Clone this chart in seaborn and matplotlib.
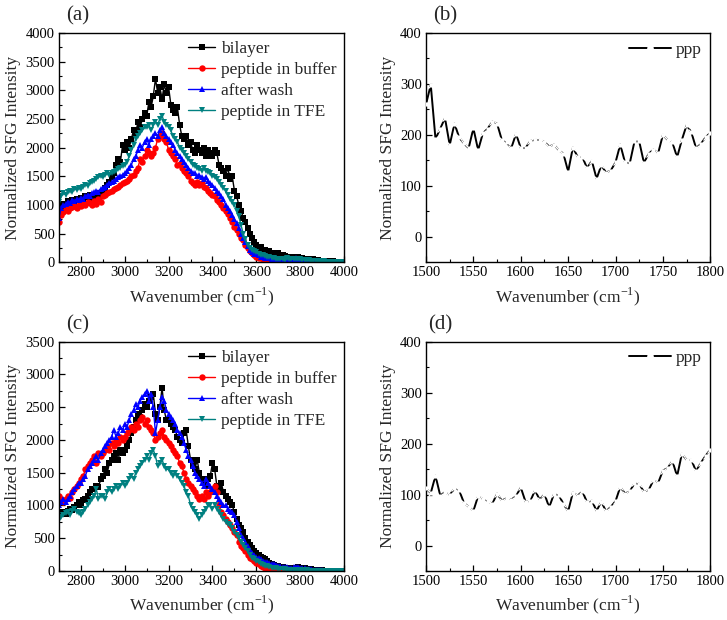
import numpy as np
import pandas as pd
import matplotlib
matplotlib.use("Agg")
import matplotlib.pyplot as plt
from matplotlib.ticker import MultipleLocator
from matplotlib.legend_handler import HandlerTuple
import seaborn as sns

# wavenumber grids
wn_ch = list(range(2700, 4001, 10))
wn_amide = list(range(1500, 1801, 5))

series_names = ["bilayer", "peptide in buffer", "after wash", "peptide in TFE"]
series_colors = ["#000000", "#ff0000", "#0000ff", "#008080"]
series_markers = ["s", "o", "^", "v"]

# panel (a)
a_bilayer = [900, 960, 1010, 1000, 1060, 1040, 1080, 1050, 1100, 1090,
             1120, 1100, 1150, 1130, 1180, 1100, 1140, 1120, 1200, 1160,
             1250, 1300, 1350, 1400, 1480, 1550, 1700, 1800, 1750, 2050,
             1950, 2100, 2000, 2150, 2300, 2250, 2450, 2350, 2500, 2600,
             2550, 2800, 2700, 2900, 3200, 2950, 3050, 2850, 3100, 2950,
             3050, 2750, 2650, 2600, 2700, 2400, 2200, 2150, 2200, 2050,
             2100, 1950, 1900, 2050, 1950, 1900, 2000, 1850, 1950, 1900,
             1850, 1950, 1900, 1700, 1650, 1600, 1500, 1650, 1450, 1500,
             1250, 1150, 1000, 900, 780, 700, 600, 500, 420, 350,
             300, 250, 260, 200, 220, 180, 190, 150, 170, 140,
             160, 130, 120, 110, 90, 100, 80, 90, 100, 85,
             70, 75, 60, 55, 50, 45, 50, 40, 35, 30,
             30, 25, 25, 20, 15, 15, 10, 8, 5, 3,
             0]
a_buffer = [700, 820, 880, 920, 900, 950, 960, 980, 940, 1000,
            980, 1020, 1000, 1050, 1030, 1000, 1060, 1020, 1100, 1050,
            1150, 1180, 1200, 1220, 1250, 1280, 1300, 1320, 1350, 1380,
            1400, 1420, 1460, 1500, 1520, 1600, 1650, 1800, 1750, 1850,
            1950, 1900, 1850, 1900, 2000, 2150, 2200, 2250, 2150, 2100,
            1950, 1900, 1850, 1800, 1700, 1720, 1650, 1600, 1550, 1500,
            1420, 1380, 1350, 1400, 1350, 1380, 1320, 1300, 1250, 1200,
            1180, 1150, 1080, 1050, 1000, 950, 900, 850, 780, 700,
            620, 560, 500, 430, 380, 300, 250, 200, 160, 120,
            100, 80, 70, 60, 55, 50, 45, 40, 35, 30,
            30, 28, 25, 25, 22, 20, 20, 18, 18, 20,
            20, 18, 15, 15, 12, 12, 10, 10, 8, 8,
            6, 6, 5, 5, 4, 4, 3, 2, 1, 1,
            0]
a_wash = [780, 950, 1000, 1020, 1050, 1040, 1080, 1060, 1100, 1090,
          1120, 1100, 1150, 1180, 1160, 1200, 1220, 1250, 1230, 1280,
          1300, 1320, 1350, 1380, 1400, 1420, 1450, 1480, 1500, 1530,
          1550, 1600, 1650, 1700, 1800, 1850, 1950, 2050, 2000, 2100,
          2150, 2050, 2150, 2200, 2250, 2200, 2300, 2350, 2250, 2200,
          2150, 2100, 2050, 1950, 1900, 1850, 1800, 1750, 1700, 1650,
          1600, 1550, 1550, 1500, 1520, 1480, 1450, 1480, 1420, 1380,
          1350, 1300, 1250, 1200, 1150, 1100, 1000, 950, 900, 820,
          750, 680, 600, 500, 420, 350, 280, 220, 180, 150,
          150, 120, 100, 90, 80, 80, 70, 60, 60, 55,
          50, 50, 45, 40, 40, 45, 50, 60, 70, 60,
          50, 45, 40, 35, 35, 30, 30, 25, 25, 20,
          20, 18, 15, 12, 10, 8, 6, 4, 2, 1,
          0]
a_tfe = [1050, 1150, 1200, 1180, 1220, 1250, 1230, 1280, 1260, 1300,
         1280, 1320, 1350, 1330, 1380, 1400, 1420, 1450, 1480, 1500,
         1480, 1520, 1550, 1530, 1560, 1580, 1600, 1620, 1650, 1680,
         1700, 1750, 1850, 1950, 2050, 2150, 2200, 2250, 2300, 2350,
         2350, 2400, 2300, 2400, 2450, 2400, 2500, 2550, 2450, 2400,
         2350, 2300, 2200, 2150, 2100, 2000, 1950, 1900, 1850, 1800,
         1750, 1700, 1680, 1650, 1620, 1600, 1650, 1600, 1580, 1550,
         1500, 1480, 1450, 1400, 1350, 1300, 1250, 1180, 1100, 1050,
         1000, 900, 800, 650, 500, 400, 300, 250, 220, 200,
         180, 150, 130, 120, 110, 100, 90, 80, 70, 65,
         60, 55, 50, 45, 80, 60, 50, 55, 60, 55,
         50, 45, 40, 40, 35, 30, 30, 25, 20, 20,
         18, 15, 12, 10, 8, 6, 5, 3, 2, 1,
         0]

# panel (c)
c_bilayer = [850, 880, 900, 870, 920, 950, 930, 980, 1000, 1050,
             1000, 1080, 1100, 1150, 1200, 1250, 1250, 1300, 1280, 1400,
             1450, 1550, 1500, 1650, 1700, 1750, 1800, 1700, 1850, 1800,
             1850, 1900, 2000, 2100, 2200, 2300, 2400, 2350, 2450, 2550,
             2500, 2600, 2650, 2700, 2400, 2300, 2500, 2800, 2450, 2300,
             2300, 2250, 2200, 2150, 2050, 2000, 1950, 2100, 2150, 1900,
             1700, 1600, 1550, 1700, 1500, 1400, 1350, 1300, 1400, 1450,
             1650, 1550, 1300, 1250, 1350, 1200, 1150, 1100, 1050, 1000,
             900, 800, 700, 650, 600, 500, 450, 400, 350, 300,
             270, 250, 220, 200, 180, 150, 120, 100, 90, 80,
             70, 60, 55, 50, 45, 40, 40, 45, 50, 55,
             50, 45, 40, 35, 30, 25, 20, 15, 12, 10,
             8, 6, 5, 4, 3, 2, 1, 1, 0, 0,
             0]
c_buffer = [1150, 1100, 1050, 1100, 1150, 1120, 1200, 1250, 1300, 1350,
            1400, 1450, 1550, 1600, 1650, 1700, 1750, 1650, 1800, 1750,
            1800, 1850, 1900, 1850, 1950, 1900, 2000, 1950, 2050, 2000,
            2050, 2100, 2150, 2200, 2150, 2250, 2200, 2300, 2350, 2250,
            2300, 2200, 2150, 2100, 2000, 2050, 2100, 2150, 2050, 2000,
            1950, 1900, 1850, 1800, 1750, 1650, 1600, 1500, 1400, 1350,
            1300, 1250, 1200, 1150, 1100, 1150, 1100, 1200, 1150, 1200,
            1250, 1300, 1200, 1000, 900, 850, 800, 750, 700, 650,
            600, 550, 450, 380, 350, 300, 250, 200, 180, 150,
            120, 100, 80, 60, 50, 40, 30, 25, 20, 15,
            12, 10, 8, 6, 5, 4, 3, 2, 2, 1,
            1, 1, 0, 0, 0, 0, 0, 0, 0, 0,
            0, 0, 0, 0, 0, 0, 0, 0, 0, 0,
            0]
c_wash = [1000, 1050, 1100, 1050, 1100, 1150, 1200, 1250, 1300, 1350,
          1350, 1400, 1450, 1550, 1600, 1650, 1700, 1750, 1700, 1800,
          1850, 1900, 1950, 2000, 2050, 2150, 2050, 2100, 2200, 2150,
          2250, 2200, 2300, 2400, 2450, 2550, 2500, 2600, 2650, 2700,
          2750, 2600, 2700, 2500, 2100, 2300, 2500, 2650, 2600, 2450,
          2400, 2350, 2300, 2250, 2150, 2100, 2050, 1950, 1850, 1750,
          1700, 1600, 1500, 1450, 1400, 1350, 1300, 1400, 1350, 1300,
          1250, 1200, 1150, 1100, 1050, 1000, 1000, 950, 920, 900,
          850, 750, 650, 550, 500, 450, 380, 320, 280, 250,
          220, 200, 180, 160, 140, 130, 120, 110, 100, 90,
          80, 70, 65, 60, 55, 50, 50, 55, 60, 55,
          50, 45, 40, 35, 30, 25, 20, 15, 12, 10,
          8, 6, 5, 4, 3, 2, 1, 1, 0, 0,
          0]
c_tfe = [780, 820, 850, 880, 900, 850, 920, 950, 900, 880,
         850, 900, 950, 1000, 1050, 1100, 1150, 1250, 1100, 1150,
         1150, 1100, 1200, 1250, 1200, 1250, 1300, 1250, 1300, 1350,
         1300, 1350, 1400, 1450, 1400, 1500, 1550, 1600, 1650, 1700,
         1750, 1700, 1800, 1850, 1750, 1600, 1650, 1700, 1600, 1550,
         1550, 1500, 1450, 1500, 1450, 1400, 1350, 1300, 1200, 1150,
         1000, 950, 900, 850, 800, 850, 900, 950, 1000, 1000,
         950, 1000, 950, 900, 850, 800, 750, 720, 700, 650,
         600, 550, 500, 450, 400, 350, 300, 250, 200, 180,
         150, 130, 110, 90, 80, 70, 60, 50, 45, 40,
         35, 30, 28, 25, 22, 20, 18, 16, 15, 14,
         12, 10, 9, 8, 7, 6, 5, 4, 3, 2,
         2, 1, 1, 1, 0, 0, 0, 0, 0, 0,
         0]

# panels (b) and (d), ppp amide region
b_ppp = [260, 298, 192, 212, 233, 180, 222, 195, 183, 174,
         213, 170, 203, 212, 226, 222, 190, 185, 174, 202,
         174, 174, 188, 190, 190, 186, 177, 181, 170, 163,
         128, 175, 157, 156, 135, 149, 114, 140, 126, 130,
         146, 181, 146, 144, 187, 187, 145, 163, 171, 164,
         200, 190, 185, 156, 190, 219, 205, 174, 182, 195,
         204]
d_ppp = [112, 103, 137, 98, 105, 99, 112, 108, 84, 76,
         68, 97, 91, 87, 82, 102, 88, 93, 90, 97,
         114, 86, 87, 108, 90, 101, 75, 101, 99, 82,
         67, 104, 98, 106, 85, 88, 68, 86, 67, 76,
         87, 115, 102, 106, 122, 121, 105, 109, 128, 123,
         147, 152, 166, 136, 180, 168, 168, 146, 162, 176,
         188]

sns.set_style("white")
plt.rcParams["font.family"] = ["Liberation Serif", "DejaVu Serif"]
plt.rcParams["mathtext.fontset"] = "custom"
plt.rcParams["mathtext.rm"] = "Liberation Serif"
plt.rcParams["axes.edgecolor"] = "black"
plt.rcParams["axes.linewidth"] = 1.0

fig = plt.figure(figsize=(7.27, 6.2), dpi=100)
ax_a = fig.add_axes([0.0812, 0.577, 0.392, 0.370])
ax_b = fig.add_axes([0.586, 0.577, 0.391, 0.370])
ax_c = fig.add_axes([0.0812, 0.079, 0.392, 0.370])
ax_d = fig.add_axes([0.586, 0.079, 0.391, 0.370])


def style_axes(ax, xlim, ylim, xmaj, ymaj):
    ax.set_xlim(*xlim)
    ax.set_ylim(*ylim)
    ax.xaxis.set_major_locator(MultipleLocator(xmaj))
    ax.xaxis.set_minor_locator(MultipleLocator(xmaj / 2))
    ax.yaxis.set_major_locator(MultipleLocator(ymaj))
    ax.yaxis.set_minor_locator(MultipleLocator(ymaj / 2))
    ax.tick_params(which="both", direction="in", top=False, right=False,
                   bottom=True, left=True, labelsize=10.5, pad=3, colors="black")
    ax.tick_params(which="major", length=4, width=0.9)
    ax.tick_params(which="minor", length=2.5, width=0.8)
    ax.set_xlabel("Wavenumber (cm$^{-1}$)", fontsize=12.5, labelpad=4)
    ax.set_ylabel("Normalized SFG Intensity", fontsize=12.5, labelpad=3)
    for s in ax.spines.values():
        s.set_color("black")
        s.set_linewidth(1.0)


def spectra_panel(ax, data, ylim):
    for name, vals, col, mk in zip(series_names, data, series_colors, series_markers):
        sns.lineplot(x=wn_ch, y=vals, ax=ax, color=col, marker=mk, markersize=4.6,
                     markeredgewidth=0, linewidth=1.0, label=name)
    style_axes(ax, (2700, 4000), ylim, 200, 500)
    ax.legend(loc="upper right", frameon=False, fontsize=12.5, handlelength=1.6,
              handletextpad=0.3, labelspacing=0.28, borderaxespad=0.15,
              borderpad=0.3, markerscale=1.0)


def ppp_panel(ax, vals):
    sns.lineplot(x=wn_amide, y=vals, ax=ax, color="black", linewidth=1.4,
                 label="ppp")
    sns.lineplot(x=wn_amide, y=vals, ax=ax, color="white", linestyle="none",
                 marker="o", markersize=3.0, markeredgewidth=0, zorder=3, legend=False)
    sns.lineplot(x=wn_amide, y=vals, ax=ax, color="#7a7a7a", linestyle="none",
                 marker="x", markersize=4.0, markeredgewidth=0.9, zorder=4, legend=False)
    style_axes(ax, (1500, 1800), (-50, 400), 50, 100)
    ax.set_yticks([0, 100, 200, 300, 400])
    lines = ax.get_lines()
    ax.legend([(lines[0], lines[1], lines[2])], ["ppp"], loc="upper right",
              frameon=False, fontsize=12.5, handlelength=2.4, handletextpad=0.3,
              borderaxespad=0.2, borderpad=0.3, numpoints=1, markerscale=1.6,
              handler_map={tuple: HandlerTuple(ndivide=1, pad=0)})


spectra_panel(ax_a, [a_bilayer, a_buffer, a_wash, a_tfe], (0, 4000))
spectra_panel(ax_c, [c_bilayer, c_buffer, c_wash, c_tfe], (0, 3500))
ppp_panel(ax_b, b_ppp)
ppp_panel(ax_d, d_ppp)

fig.text(0.107, 0.975, "(a)", fontsize=15, ha="center", va="center")
fig.text(0.612, 0.975, "(b)", fontsize=15, ha="center", va="center")
fig.text(0.107, 0.476, "(c)", fontsize=15, ha="center", va="center")
fig.text(0.606, 0.476, "(d)", fontsize=15, ha="center", va="center")

fig.savefig("out.png", dpi=100)
